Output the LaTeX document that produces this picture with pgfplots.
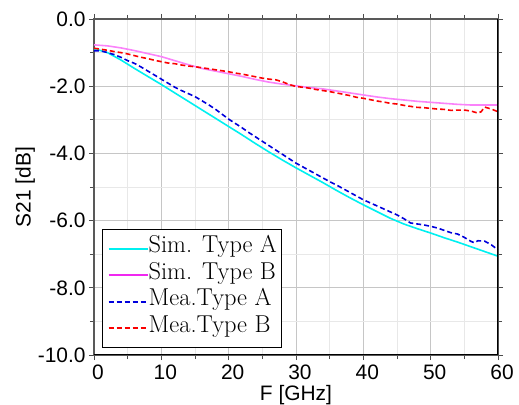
\documentclass[border=0pt]{standalone}
\usepackage{fontspec}
\usepackage{pgfplots}
\pgfplotsset{compat=1.18}
\newfontfamily\arialfont{Liberation Sans}
\definecolor{simA}{RGB}{0,240,240}
\definecolor{simB}{RGB}{250,130,250}
\definecolor{simBleg}{RGB}{240,40,240}
\definecolor{meaA}{RGB}{0,0,220}
\definecolor{meaB}{RGB}{250,0,0}

\pgfplotstableread{
f s
0 -0.88
2 -1.00
4 -1.22
6 -1.47
8 -1.71
10 -1.95
12 -2.20
14 -2.45
16 -2.70
18 -2.95
20 -3.20
22 -3.45
24 -3.71
26 -3.96
28 -4.20
30 -4.43
32 -4.65
34 -4.87
36 -5.10
38 -5.32
40 -5.53
42 -5.73
44 -5.93
46 -6.10
48 -6.24
50 -6.37
52 -6.51
54 -6.64
56 -6.78
58 -6.92
60 -7.06
}\simA

\pgfplotstableread{
f s
0 -0.77
2 -0.80
4 -0.86
6 -0.94
8 -1.03
10 -1.12
12 -1.24
14 -1.36
16 -1.47
18 -1.55
20 -1.63
22 -1.71
24 -1.80
26 -1.88
28 -1.94
30 -1.99
32 -2.04
34 -2.08
36 -2.14
38 -2.20
40 -2.26
42 -2.32
44 -2.37
46 -2.41
48 -2.45
50 -2.48
52 -2.51
54 -2.54
56 -2.56
58 -2.56
60 -2.56
}\simB

\pgfplotstableread{
f s
0 -0.95
1 -0.95
2 -1.00
3 -1.06
4 -1.14
5 -1.24
6 -1.32
7 -1.43
8 -1.55
9 -1.67
10 -1.79
11 -1.91
12 -2.03
13 -2.13
14 -2.22
15 -2.31
16 -2.43
17 -2.55
18 -2.68
19 -2.83
20 -2.98
21 -3.11
22 -3.24
23 -3.38
24 -3.51
25 -3.64
26 -3.77
27 -3.90
28 -4.03
29 -4.16
30 -4.29
31 -4.40
32 -4.51
33 -4.62
34 -4.73
35 -4.84
36 -4.94
37 -5.05
38 -5.16
39 -5.27
40 -5.38
41 -5.47
42 -5.56
43 -5.65
44 -5.74
45 -5.83
46 -5.94
47 -6.07
48 -6.10
49 -6.13
50 -6.17
51 -6.22
52 -6.29
53 -6.36
54 -6.40
55 -6.50
56 -6.62
56.5 -6.66
57 -6.60
58 -6.61
59 -6.72
60 -6.87
}\meaA

\pgfplotstableread{
f s
0 -0.87
1 -0.90
2 -0.93
3 -0.97
4 -1.00
5 -1.04
6 -1.09
7 -1.14
8 -1.18
9 -1.23
10 -1.27
11 -1.31
12 -1.33
13 -1.37
14 -1.40
15 -1.42
16 -1.45
17 -1.48
18 -1.51
19 -1.54
20 -1.57
21 -1.61
22 -1.64
23 -1.68
24 -1.72
25 -1.76
26 -1.79
27 -1.81
28 -1.87
29 -1.95
30 -2.01
31 -2.03
32 -2.06
33 -2.10
34 -2.13
35 -2.16
36 -2.20
37 -2.24
38 -2.28
39 -2.33
40 -2.36
41 -2.40
42 -2.44
43 -2.47
44 -2.51
45 -2.53
46 -2.57
47 -2.60
48 -2.63
49 -2.64
50 -2.66
51 -2.68
52 -2.69
53 -2.72
54 -2.71
55 -2.71
56 -2.74
57 -2.80
57.5 -2.76
58 -2.62
59 -2.68
60 -2.76
}\meaB

\begin{document}
\begin{tikzpicture}
\path[use as bounding box] (-94bp,-50bp) rectangle (425bp,355bp);
\begin{axis}[
    at={(0,0)}, anchor=south west,
    scale only axis,
    width=404bp, height=336bp,
    xmin=0, xmax=60, ymin=-10, ymax=0,
    xtick={0,10,...,60},
    ytick={-10,-8,...,0},
    minor x tick num=1,
    minor y tick num=1,
    grid=both,
    major grid style={gray!45, line width=0.7pt},
    minor grid style={gray!18, line width=0.7pt},
    tick align=outside,
    major tick length=5bp,
    minor tick length=4bp,
    tick style={gray!60!black, line width=0.8pt},
    axis line style={gray!70!black, line width=1.3pt},
    /pgf/number format/assume math mode=true,
    tick label style={font=\fontsize{21}{24}\selectfont\arialfont},
    xticklabel style={xshift=4bp, yshift=-1bp},
    yticklabel style={/pgf/number format/fixed, /pgf/number format/fixed zerofill, /pgf/number format/precision=1},
    label style={font=\fontsize{21}{24}\selectfont\arialfont},
    xlabel={F [GHz]},
    ylabel={S21 [dB]},
    xlabel style={yshift=1bp},
    ylabel style={yshift=-4bp},
    legend cell align=left,
    legend style={at={(0.02,0.02)}, anchor=south west, draw=black, line width=1.2pt,
      font=\fontsize{24.5}{25}\selectfont, inner xsep=5bp, inner ysep=6bp,
      nodes={inner sep=0bp, text height=17bp, text depth=9.5bp},
      column 2/.style={nodes={text width=148bp}}},
    legend image code/.code={\draw[#1, line width=2pt] (0bp,0bp) -- (39bp,0bp);},
]
\addplot[draw=simA, line width=1.6pt] table[x=f, y=s] {\simA};
\addplot[draw=simB, line width=1.6pt, legend image post style={draw=simBleg}] table[x=f, y=s] {\simB};
\addplot[draw=meaA, line width=1.6pt, dash pattern=on 5bp off 3bp] table[x=f, y=s] {\meaA};
\addplot[draw=meaB, line width=1.6pt, dash pattern=on 5bp off 3bp] table[x=f, y=s] {\meaB};
\legend{Sim. Type A, Sim. Type B, Mea.Type A, Mea.Type B}
\draw[black, line width=1.1pt] (rel axis cs:0,0) -- (rel axis cs:1,0) -- (rel axis cs:1,1);
\end{axis}
\end{tikzpicture}
\end{document}
